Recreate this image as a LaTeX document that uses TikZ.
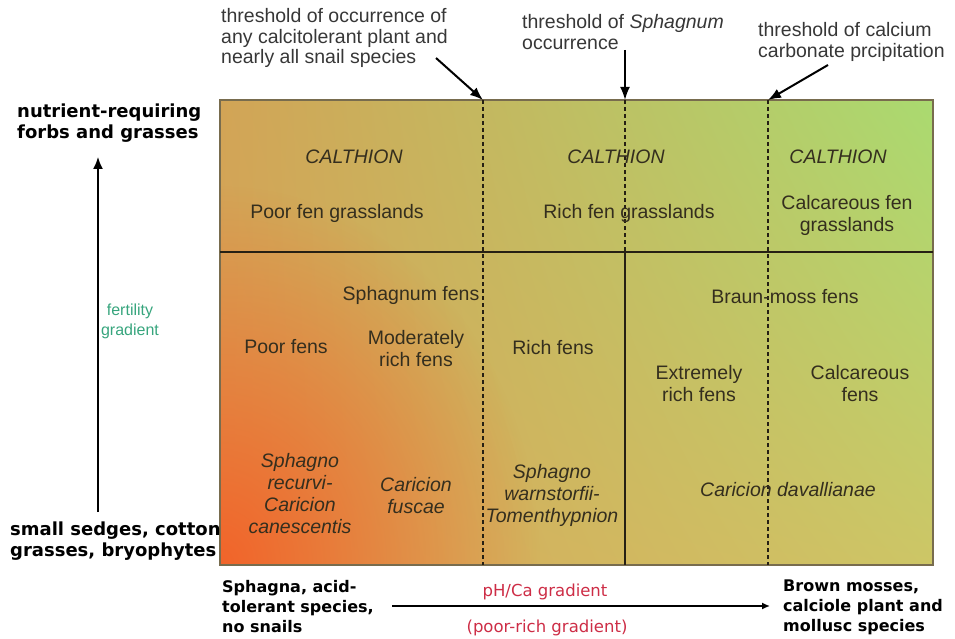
\documentclass[tikz,border=0pt]{standalone}
\usepackage{fontspec}
\usepackage{xcolor}
\setmainfont{Liberation Sans}
\newfontfamily\verafont{DejaVu Sans}
\usetikzlibrary{arrows.meta,fadings,shadings,positioning}

\definecolor{inktext}{RGB}{52,46,30}
\definecolor{greytext}{RGB}{55,55,55}
\definecolor{fertgreen}{RGB}{55,165,125}
\definecolor{phred}{RGB}{205,45,70}
\definecolor{framecol}{RGB}{120,108,78}
\definecolor{linecol}{RGB}{38,32,20}
\definecolor{orangecorner}{RGB}{242,100,42}
\definecolor{fieldUL}{RGB}{210,164,86}
\definecolor{fieldUR}{RGB}{170,218,112}
\definecolor{fieldLL}{RGB}{216,165,88}
\definecolor{fieldLR}{RGB}{205,198,102}

\tikzfading[name=glowfade, inner color=transparent!0, outer color=transparent!100]

\begin{document}
\begin{tikzpicture}[x=1pt, y=-1pt,
	cell/.style={inner sep=0pt, align=center, text=inktext, font=\fontsize{19.5}{22}\selectfont},
	alliance/.style={cell, font=\fontsize{19.5}{22}\selectfont\itshape},
	thrlabel/.style={inner sep=0pt, align=left, anchor=west, text=greytext, font=\fontsize{19.5}{20.5}\selectfont},
	sidelabel/.style={inner sep=0pt, align=left, anchor=west, text=black, font=\verafont\bfseries\fontsize{18}{20.5}\selectfont},
	endlabel/.style={inner sep=0pt, align=left, anchor=west, text=black, font=\verafont\bfseries\fontsize{16}{20}\selectfont},
	thrarrow/.style={line width=2pt, -{Latex[length=13pt,width=10pt]}},
	divider/.style={linecol, line width=2.2pt},
	threshold/.style={linecol, line width=1.2pt, dash pattern=on 4pt off 3pt}
	]
				% gradient field of the fen types
				\useasboundingbox (0,0) rectangle (955,639);
				\shade[upper left=fieldUL, upper right=fieldUR,
					lower left=fieldLL, lower right=fieldLR]
					(220,100) rectangle (933,565);
				\begin{scope}
					\clip (220,100) rectangle (933,565);
					\fill[orangecorner, path fading=glowfade] (220,565) ellipse [x radius=320pt, y radius=380pt];
				\end{scope}
				\draw[framecol, line width=1.5pt] (220,100) rectangle (933,565);
				
				% thresholds and borders
				\coordinate (topA) at (483,100);
				\coordinate (topB) at (625,100);
				\coordinate (topC) at (768,100);
				\coordinate (midB) at (625,252);
				\draw[threshold] (topA) -- (483,565);
				\draw[threshold] (topB) -- (midB);
				\draw[threshold] (topC) -- (768,565);
				\draw[divider] (220,252) -- (933,252);
				\draw[divider] (midB) -- (625,565);
				
				% upper row
				\node[alliance] (calthA) at (354,157) {CALTHION};
				\node[alliance] (calthB) at (616,157) {CALTHION};
				\node[alliance] (calthC) at (838,157) {CALTHION};
				\node[cell] (poorgrass) at (337,213) {Poor fen grasslands};
				\node[cell] (richgrass) at (629,213) {Rich fen grasslands};
				\node[cell] (calcgrass) at (847,215) {Calcareous fen\\grasslands};
				
				% lower part
				\node[cell] (sphfens) at (411,295) {Sphagnum fens};
				\node[cell] (poorfens) at (286,347) {Poor fens};
				\node[cell] (modfens) at (416,349) {Moderately\\rich fens};
				\node[cell] (richfens) at (553,348) {Rich fens};
				\node[cell] (braunfens) at (785,297) {Braun-moss fens};
				\node[cell] (extfens) at (699,384) {Extremely\\rich fens};
				\node[cell] (calcfens) at (860,384) {Calcareous\\fens};
				\node[alliance] (sphrec) at (300,494) {Sphagno\\recurvi-\\Caricion\\canescentis};
				\node[alliance] (carfus) at (416,496) {Caricion\\fuscae};
				\node[alliance] (sphwar) at (552,495) {Sphagno\\warnstorfii-\\Tomenthypnion};
				\node[alliance] (cardav) at (788,490) {Caricion davallianae};
				
				% threshold labels
				\node[thrlabel] (thrA) at (221,38) {threshold of occurrence of\\any calcitolerant plant and\\nearly all snail species};
				\node[thrlabel] (thrB) at (522,32) {threshold of \textit{Sphagnum}\\occurrence};
				\node[thrlabel] (thrC) at (758,42) {threshold of calcium\\carbonate prcipitation};
				\coordinate (fromA) at (436,58);
				\coordinate (fromB) at (625,50);
				\coordinate (fromC) at (828,65);
				\draw[thrarrow] (fromA) -- (topA);
				\draw[thrarrow] (fromB) -- (topB);
				\draw[thrarrow] (fromC) -- (topC);
				
				% fertility axis
				\node[sidelabel] (nutrient) at (17,123) {nutrient-requiring\\forbs and grasses};
				\node[sidelabel] (sedges) at (10,541) {small sedges, cotton\\grasses, bryophytes};
				\node[inner sep=0pt, align=center, text=fertgreen, font=\fontsize{16}{20}\selectfont] (fertility) at (130,321) {fertility\\gradient};
				\coordinate (fertlow) at (98,512);
				\coordinate (ferthigh) at (98,157);
				\draw[line width=1.6pt, -{Latex[length=12pt,width=10pt]}] (fertlow) -- (ferthigh);
				
				% pH axis
				\node[endlabel] (sphagna) at (222,607) {Sphagna, acid-\\tolerant species,\\no snails};
				\node[endlabel] (brown) at (783,607) {Brown mosses,\\calciole plant and\\mollusc species};
				\node[inner sep=0pt, text=phred, font=\verafont\fontsize{16.5}{20}\selectfont] (phca) at (545,592) {pH/Ca gradient};
				\node[inner sep=0pt, text=phred, font=\verafont\fontsize{16.5}{20}\selectfont] (poorrich) at (547,628) {(poor-rich gradient)};
				\coordinate (phlow) at (392,606);
				\coordinate (phhigh) at (770,606);
				\draw[line width=1.5pt, -{Latex[length=8pt,width=7pt]}] (phlow) -- (phhigh);
				
			\end{tikzpicture}
\end{document}
